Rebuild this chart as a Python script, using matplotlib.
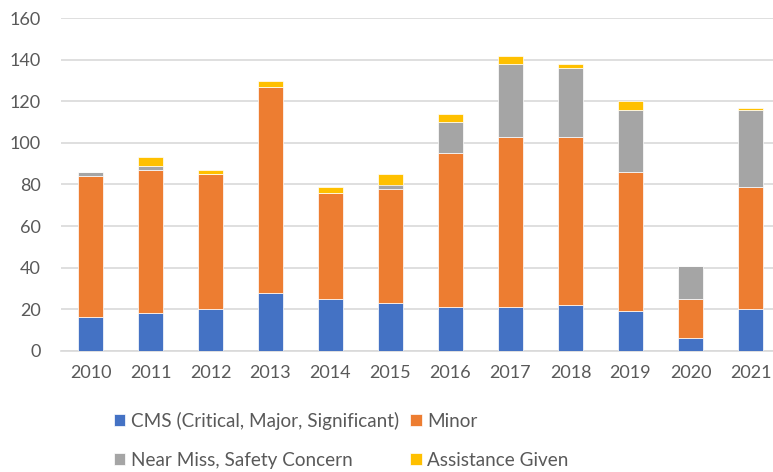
import matplotlib.pyplot as plt
import numpy as np

plt.rcParams['font.family'] = ['Lato', 'DejaVu Sans']

# Data
years = ["2010", "2011", "2012", "2013", "2014", "2015",
         "2016", "2017", "2018", "2019", "2020", "2021"]
cms = [16, 18, 20, 28, 25, 23, 21, 21, 22, 19, 6, 20]
minor = [68, 69, 65, 99, 51, 55, 74, 82, 81, 67, 19, 59]
near_miss = [2, 2, 0, 0, 0, 2, 15, 35, 33, 30, 16, 37]
assistance = [0, 4, 2, 3, 3, 5, 4, 4, 2, 4, 0, 1]

series = [
    ("CMS (Critical, Major, Significant)", cms, "#4472C4"),
    ("Minor", minor, "#ED7D31"),
    ("Near Miss, Safety Concern", near_miss, "#A5A5A5"),
    ("Assistance Given", assistance, "#FFC000"),
]

text_color = "#595959"
grid_color = "#d9d9d9"

fig = plt.figure(figsize=(7.73, 4.72), dpi=100)
ax = fig.add_axes([60.5 / 773, 1 - 350.7 / 472, 1 - 60.5 / 773, (350.7 - 18.3) / 472])

x = np.arange(len(years))
bottom = np.zeros(len(years))
bars = []
for name, vals, color in series:
    b = ax.bar(x, vals, width=0.405, bottom=bottom, color=color, label=name,
               edgecolor="white", linewidth=0.5, zorder=3)
    bars.append(b)
    bottom += np.array(vals)

ax.set_ylim(0, 160)
ax.set_yticks(range(0, 161, 20))
ax.set_xlim(-0.5, (773 - 90.5) / 60)
ax.set_xticks(x)
ax.set_xticklabels(years)

ax.grid(axis="y", color=grid_color, linewidth=1.2, zorder=0)
for side in ["top", "right", "left"]:
    ax.spines[side].set_visible(False)
ax.spines["bottom"].set_color(grid_color)
ax.spines["bottom"].set_linewidth(1.2)
ax.tick_params(axis="both", length=0, labelsize=13, colors=text_color)
ax.tick_params(axis="y", pad=14)
ax.tick_params(axis="x", pad=10)

# legend filled row by row, like the original
order = [0, 2, 1, 3]
fig.legend([bars[i] for i in order], [series[i][0] for i in order],
           loc="upper left", bbox_to_anchor=(114 / 773, 1 - 412 / 472),
           ncol=2, frameon=False, fontsize=13.6, labelcolor=text_color,
           handlelength=0.6, handleheight=0.6, handletextpad=0.3,
           columnspacing=0.6, labelspacing=1.15, borderpad=0, borderaxespad=0)

fig.savefig("out.png", dpi=100)
